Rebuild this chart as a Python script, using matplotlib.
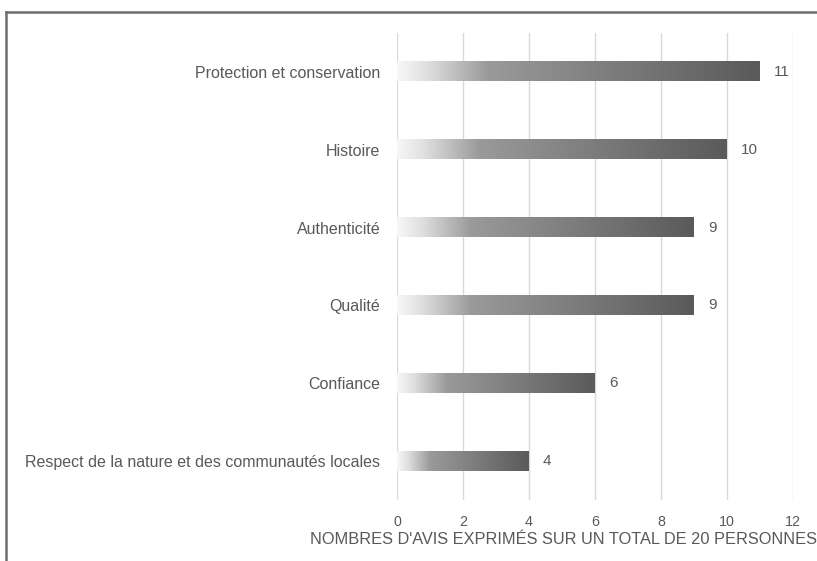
import numpy as np
import matplotlib.pyplot as plt
from matplotlib.colors import LinearSegmentedColormap
from matplotlib.lines import Line2D

plt.rcParams['font.family'] = ['Liberation Sans', 'DejaVu Sans']

categories = [
    "Respect de la nature et des communautés locales",
    "Confiance",
    "Qualité",
    "Authenticité",
    "Histoire",
    "Protection et conservation",
]
counts = [4, 6, 9, 9, 10, 11]
xticks = [0, 2, 4, 6, 8, 10, 12]

text_color = "#595959"
grid_color = "#d9d9d9"

# white-to-grey fill used across each bar
shade = LinearSegmentedColormap.from_list(
    "shade", [(0.0, "#f7f7f7"), (0.08, "#e0e0e0"), (0.25, "#9a9a9a"), (1.0, "#5a5a5a")]
)
ramp = np.linspace(0, 1, 256).reshape(1, -1)

fig = plt.figure(figsize=(8.17, 5.61), dpi=100)
ax = fig.add_axes([397 / 817, 1 - 500 / 561, (793 - 397) / 817, (500 - 33) / 561])

bar_h = 0.245
for i, v in enumerate(counts):
    ax.imshow(ramp, extent=[0, v, i - bar_h / 2, i + bar_h / 2],
              aspect="auto", cmap=shade, interpolation="bilinear", zorder=2)
    ax.text(v + 0.42, i, str(v), va="center", ha="left", fontsize=11, color=text_color)

ax.set_xlim(0, 12)
ax.set_ylim(-0.5, len(categories) - 0.5)
ax.set_xticks(xticks)
ax.set_yticks(range(len(categories)))
ax.set_yticklabels(categories)
ax.tick_params(axis="both", length=0, colors=text_color)
ax.tick_params(axis="x", pad=11, labelsize=10.3)
ax.tick_params(axis="y", pad=12, labelsize=11.5)
for s in ax.spines.values():
    s.set_visible(False)
ax.grid(axis="x", color=grid_color, linewidth=1, zorder=0)
ax.set_axisbelow(True)

# axis title sits left of centre so it fits inside the figure
ax.text((564 - 397) / 396, -(539 - 500) / 467,
        "NOMBRES D'AVIS EXPRIMÉS SUR UN TOTAL DE 20 PERSONNES",
        transform=ax.transAxes, ha="center", va="center",
        fontsize=11.8, color=text_color)

# frame along the top and left edges
fig.add_artist(Line2D([6 / 817, 1], [1 - 12 / 561] * 2, color="#6e6e6e", linewidth=1.8))
fig.add_artist(Line2D([6 / 817] * 2, [0, 1 - 12 / 561], color="#6e6e6e", linewidth=1.8))

fig.savefig("out.png", dpi=100)
